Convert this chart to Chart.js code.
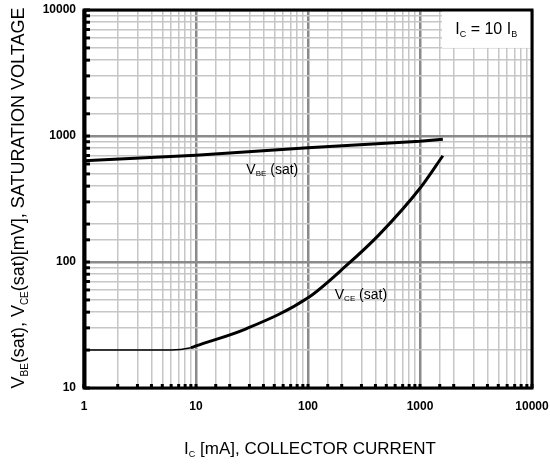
<!DOCTYPE html>
<html>
<head>
<meta charset="utf-8">
<script src="https://cdn.jsdelivr.net/npm/chart.js@4/dist/chart.umd.min.js"></script>
<style>
  html, body { margin: 0; padding: 0; background: #fff; }
  #wrap { width: 550px; height: 467px; }
</style>
</head>
<body>
<div id="wrap"><canvas id="myChart" width="550" height="467"></canvas></div>
<script>
// axis ranges and tick labels
var xMin = 1, xMax = 10000;
var yMin = 10, yMax = 10000;
var xTickLabels = ["1", "10", "100", "1000", "10000"];
var yTickLabels = ["10", "100", "1000", "10000"];

// VBE(sat) curve, mV vs IC mA
var vbeCurrent = [1, 10, 100, 1000, 1600];
var vbeVoltage = [635, 705, 805, 908, 942];

// VCE(sat) curve
var vceCurrent = [1, 6, 9, 10, 28, 100, 218, 432, 1000, 1600];
var vceVoltage = [20, 20, 20.9, 21.6, 29.5, 52, 93, 165, 385, 697];

// text annotations, placed in data coordinates
var vbeLabelAt = [48, 540];
var vceLabelAt = [297, 55];
var conditionAt = [3900, 7000];
var conditionBox = [1570, 5000];

var FONT = "'Liberation Sans', Arial, sans-serif";

function isDecade(v) {
	var l = Math.log10(v);
	return Math.abs(l - Math.round(l)) < 1e-6;
}

function points(xs, ys) {
	return xs.map(function(x, i) { return { x: x, y: ys[i] }; });
}

// draws a text made of normal / subscript pieces, centred at (cx, cy)
function drawRich(ctx, parts, cx, cy, size) {
	var subSize = Math.round(size * 0.55);
	var total = 0;
	parts.forEach(function(p) {
		ctx.font = (p.sub ? subSize : size) + 'px ' + FONT;
		p.w = ctx.measureText(p.t).width;
		total += p.w;
	});
	var x = cx - total / 2;
	ctx.textBaseline = 'middle';
	ctx.textAlign = 'left';
	parts.forEach(function(p) {
		ctx.font = (p.sub ? subSize : size) + 'px ' + FONT;
		ctx.fillText(p.t, x, p.sub ? cy + size * 0.32 : cy);
		x += p.w;
	});
}

var decorations = {
	id: 'decorations',
	beforeDatasetsDraw: function(chart) {
		var ctx = chart.ctx, xs = chart.scales.x, ys = chart.scales.y, a = chart.chartArea;
		// white box behind the condition text
		var bx = xs.getPixelForValue(conditionBox[0]);
		var by = ys.getPixelForValue(conditionBox[1]);
		ctx.save();
		ctx.fillStyle = '#fff';
		ctx.fillRect(bx, a.top, a.right - bx, by - a.top);
		ctx.restore();
	},
	afterDraw: function(chart) {
		var ctx = chart.ctx, xs = chart.scales.x, ys = chart.scales.y, a = chart.chartArea;
		ctx.save();
		// inner tick marks
		ctx.fillStyle = '#000';
		ys.ticks.forEach(function(t) {
			var py = ys.getPixelForValue(t.value);
			ctx.fillRect(a.left, py - 1.5, 6, 3);
		});
		xs.ticks.forEach(function(t) {
			var px = xs.getPixelForValue(t.value);
			ctx.fillRect(px - 1.5, a.bottom - 4, 3, 4);
		});
		// frame
		ctx.strokeStyle = '#000';
		ctx.lineWidth = 3;
		ctx.strokeRect(a.left, a.top, a.right - a.left, a.bottom - a.top);
		ctx.fillRect(a.left - 1.5, a.top, 4, a.bottom - a.top);

		ctx.fillStyle = '#000';
		// curve labels
		drawRich(ctx, [{t: 'V'}, {t: 'BE', sub: true}, {t: ' (sat)'}],
			xs.getPixelForValue(vbeLabelAt[0]), ys.getPixelForValue(vbeLabelAt[1]), 14);
		drawRich(ctx, [{t: 'V'}, {t: 'CE', sub: true}, {t: ' (sat)'}],
			xs.getPixelForValue(vceLabelAt[0]), ys.getPixelForValue(vceLabelAt[1]), 14);
		drawRich(ctx, [{t: 'I'}, {t: 'C', sub: true}, {t: ' = 10 I'}, {t: 'B', sub: true}],
			xs.getPixelForValue(conditionAt[0]), ys.getPixelForValue(conditionAt[1]), 16);

		// axis titles
		drawRich(ctx, [{t: 'I'}, {t: 'C', sub: true}, {t: ' [mA], COLLECTOR CURRENT'}],
			310, 449, 17);
		ctx.translate(19, 198);
		ctx.rotate(-Math.PI / 2);
		drawRich(ctx, [{t: 'V'}, {t: 'BE', sub: true}, {t: '(sat), V'}, {t: 'CE', sub: true},
			{t: '(sat)[mV], SATURATION VOLTAGE'}], 0, 0, 18);
		ctx.restore();
	}
};

app = (function() {
	return {
		initialize: function() {
			var ctx = document.getElementById('myChart').getContext('2d');
			var gridColor = function(c) { return c.tick && isDecade(c.tick.value) ? '#8a8a8a' : '#c6c6c6'; };
			var gridWidth = function(c) { return c.tick && isDecade(c.tick.value) ? 2.5 : 1.5; };
			var myChart = new Chart(ctx, {
				type: 'scatter',
				data: {
					datasets: [{
						label: 'VBE(sat)',
						data: points(vbeCurrent, vbeVoltage),
						showLine: true,
						borderColor: '#000',
						borderWidth: 3,
						pointRadius: 0,
						tension: 0
					}, {
						label: 'VCE(sat)',
						data: points(vceCurrent, vceVoltage),
						showLine: true,
						borderColor: '#000',
						borderWidth: 3,
						pointRadius: 0,
						cubicInterpolationMode: 'monotone',
						segment: {
							borderWidth: function(c) { return c.p1.parsed.x <= 9 ? 1.5 : 3; }
						}
					}]
				},
				options: {
					responsive: false,
					animation: false,
					layout: { padding: { top: 10, right: 18, left: 0, bottom: 0 } },
					plugins: { legend: { display: false }, tooltip: { enabled: false } },
					scales: {
						x: {
							type: 'logarithmic',
							min: xMin, max: xMax,
							afterFit: function(s) { s.height = 79; s.paddingLeft = 0; s.paddingRight = 0; },
							border: { display: false },
							grid: { color: gridColor, lineWidth: gridWidth, drawTicks: false },
							ticks: {
								autoSkip: false, maxRotation: 0, padding: 11,
								color: '#000',
								font: { family: FONT, size: 12, weight: 'bold' },
								callback: function(v) {
									var s = String(Math.round(v));
									return xTickLabels.indexOf(s) >= 0 && isDecade(v) ? s : '';
								}
							}
						},
						y: {
							type: 'logarithmic',
							min: yMin, max: yMax,
							afterFit: function(s) { s.width = 84; s.paddingTop = 0; s.paddingBottom = 0; },
							border: { display: false },
							grid: { color: gridColor, lineWidth: gridWidth, drawTicks: false },
							ticks: {
								autoSkip: false, padding: 8,
								color: '#000',
								font: { family: FONT, size: 12, weight: 'bold' },
								callback: function(v) {
									var s = String(Math.round(v));
									return yTickLabels.indexOf(s) >= 0 && isDecade(v) ? s : '';
								}
							}
						}
					}
				},
				plugins: [decorations]
			});
		}
	};
})();

app.initialize();
</script>
</body>
</html>
